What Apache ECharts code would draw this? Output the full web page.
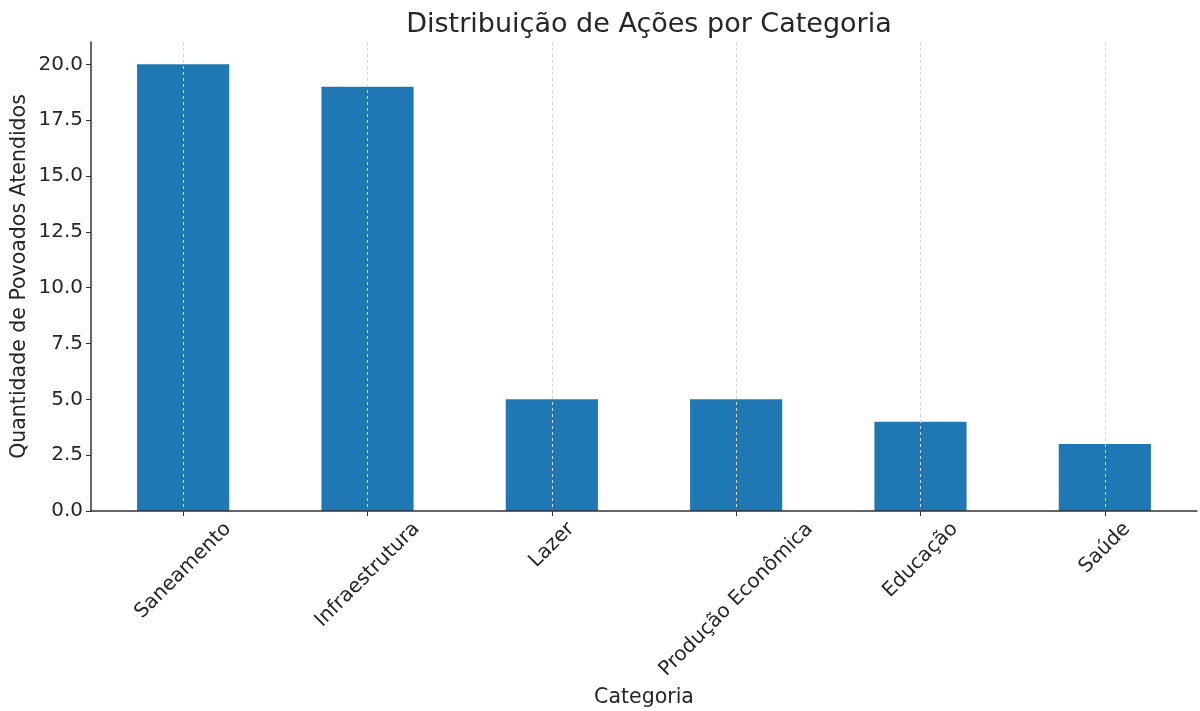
<!DOCTYPE html>
<html>
<head>
<meta charset="utf-8">
<script src="https://cdn.jsdelivr.net/npm/echarts@6/dist/echarts.min.js"></script>
<style>html,body{margin:0;padding:0;background:#fff;}#c{width:1200px;height:711px;}</style>
</head>
<body>
<div id="c"></div>
<script>
const categories = ['Saneamento', 'Infraestrutura', 'Lazer', 'Produção Econômica', 'Educação', 'Saúde'];
const values = [20, 19, 5, 5, 4, 3];
const yTicks = [0, 2.5, 5, 7.5, 10, 12.5, 15, 17.5, 20];

const FONT = '"DejaVu Sans", sans-serif';
const LABEL_SIZE = 20;

const cv = document.createElement('canvas').getContext('2d');
cv.font = LABEL_SIZE + 'px "DejaVu Sans"';
const rich = {};
categories.forEach((c, i) => {
  const L = cv.measureText(c).width;
  const p = Math.round((L + LABEL_SIZE) / 2);
  rich['c' + i] = { fontFamily: FONT, fontSize: LABEL_SIZE, color: '#262626', padding: [p, p, 0, 0] };
});

const chart = echarts.init(document.getElementById('c'));
chart.setOption({
  animation: false,
  backgroundColor: '#fff',
  title: {
    text: 'Distribuição de Ações por Categoria',
    left: 644, top: 6, textAlign: 'center',
    textStyle: { fontFamily: FONT, fontSize: 27, fontWeight: 'normal', color: '#262626' }
  },
  grid: { left: 91, right: 3, top: 42, bottom: 200, containLabel: false, outerBoundsMode: 'none' },
  xAxis: {
    type: 'category',
    data: categories,
    z: 5,
    name: 'Categoria',
    nameLocation: 'middle',
    nameGap: 176,
    nameMoveOverlap: false,
    nameTextStyle: { fontFamily: FONT, fontSize: 20.5, color: '#262626' },
    axisLine: { lineStyle: { color: '#333', width: 1.5 } },
    axisTick: { show: true, alignWithLabel: true, length: 5, lineStyle: { color: '#333' } },
    splitLine: { show: true, alignWithLabel: true, lineStyle: { color: '#d6d6d6', type: [3, 3], width: 1 } },
    axisLabel: {
      interval: 0,
      rotate: 45,
      margin: 8,
      align: 'center',
      verticalAlign: 'middle',
      formatter: (v, i) => '{c' + i + '|' + v + '}',
      rich: rich
    }
  },
  yAxis: {
    type: 'value',
    min: 0, max: 21, interval: 2.5,
    name: 'Quantidade de Povoados Atendidos',
    nameLocation: 'middle',
    nameGap: 61,
    nameMoveOverlap: false,
    nameTextStyle: { fontFamily: FONT, fontSize: 20.5, color: '#262626' },
    axisLine: { show: true, lineStyle: { color: '#333', width: 1.5 } },
    axisTick: { show: true, length: 5, lineStyle: { color: '#333' }, customValues: yTicks },
    splitLine: { show: false },
    axisLabel: {
      fontFamily: FONT, fontSize: 20, color: '#262626', margin: 8,
      customValues: yTicks,
      formatter: v => v.toFixed(1)
    }
  },
  series: [{
    type: 'bar',
    data: values,
    barWidth: '50%',
    itemStyle: { color: '#1f77b4' }
  }]
});
</script>
</body>
</html>
